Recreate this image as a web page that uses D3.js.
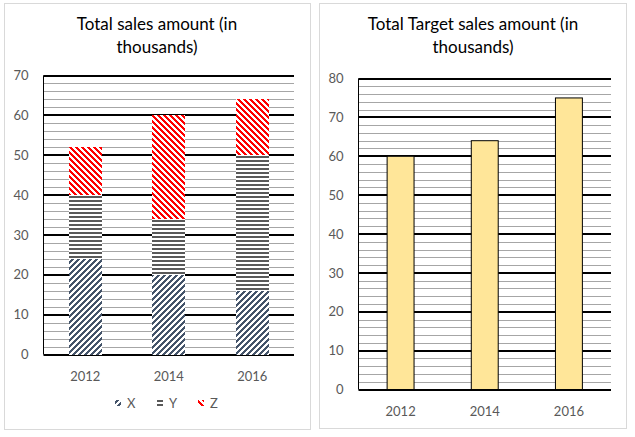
<!DOCTYPE html>
<html>
<head>
<meta charset="utf-8">
<script src="https://cdn.jsdelivr.net/npm/d3@7"></script>
<style>
  html, body { margin: 0; padding: 0; background: #fff; }
  svg { display: block; }
  text { font-family: Lato, "Open Sans", sans-serif; }
</style>
</head>
<body>
<svg id="chart" width="635" height="437"></svg>
<script>
// ---- Data ----
const years = ["2012", "2014", "2016"];
const seriesNames = ["X", "Y", "Z"];
const salesX = [24, 20, 16];
const salesY = [16, 14, 34];
const salesZ = [12, 26, 14];
const targetSales = [60, 64, 75];
const salesTicks = [0, 10, 20, 30, 40, 50, 60, 70];
const targetTicks = [0, 10, 20, 30, 40, 50, 60, 70, 80];
const salesTitle = ["Total sales amount (in", "thousands)"];
const targetTitle = ["Total Target sales amount (in", "thousands)"];

const svg = d3.select("#chart");
const defs = svg.append("defs");

// ---- Pixel patterns (crisp, Excel-like) ----
function pixelDiagonal(id, color, period, on, upward) {
  const p = defs.append("pattern")
    .attr("id", id)
    .attr("patternUnits", "userSpaceOnUse")
    .attr("x", 0).attr("y", 0)
    .attr("width", period).attr("height", period);
  p.append("rect").attr("width", period).attr("height", period).attr("fill", "#fff");
  const cells = [];
  for (let yy = 0; yy < period; yy++) {
    for (let xx = 0; xx < period; xx++) {
      const k = upward ? (xx + yy) % period : ((xx - yy) % period + period) % period;
      if (k < on) cells.push([xx, yy]);
    }
  }
  p.selectAll("rect.px").data(cells).join("rect").attr("class", "px")
    .attr("x", d => d[0]).attr("y", d => d[1]).attr("width", 1).attr("height", 1)
    .attr("fill", color).attr("shape-rendering", "crispEdges");
}
pixelDiagonal("patX", "#44546A", 6, 3, true);
pixelDiagonal("patZ", "#FF0000", 6, 3, false);
(function () {
  const p = defs.append("pattern")
    .attr("id", "patY")
    .attr("patternUnits", "userSpaceOnUse")
    .attr("width", 4).attr("height", 4);
  p.append("rect").attr("width", 4).attr("height", 4).attr("fill", "#fff");
  p.append("rect").attr("y", 0).attr("width", 4).attr("height", 2).attr("fill", "#595959")
    .attr("shape-rendering", "crispEdges");
})();
const patternFor = { X: "url(#patX)", Y: "url(#patY)", Z: "url(#patZ)" };

// ---- Helpers ----
function panel(x, y, w, h) {
  svg.append("rect").attr("x", x).attr("y", y).attr("width", w).attr("height", h)
    .attr("fill", "#fff").attr("stroke", "#D9D9D9").attr("stroke-width", 1);
}
function title(lines, cx) {
  const t = svg.append("text").attr("text-anchor", "middle")
    .attr("font-size", 17).attr("fill", "#000");
  lines.forEach((l, i) => {
    t.append("tspan").attr("x", cx).attr("y", 30 + i * 23).text(l);
  });
}
function grid(g, y, x0, x1, maxV) {
  const minor = d3.range(0, maxV + 0.001, 2).filter(v => v % 10 !== 0);
  g.selectAll(".minor").data(minor).join("line")
    .attr("x1", x0).attr("x2", x1)
    .attr("y1", d => Math.round(y(d)) + 0.5).attr("y2", d => Math.round(y(d)) + 0.5)
    .attr("stroke", "#A6A6A6").attr("stroke-width", 1);
  const major = d3.range(0, maxV + 0.001, 10);
  g.selectAll(".major").data(major).join("line")
    .attr("x1", x0).attr("x2", x1)
    .attr("y1", d => Math.round(y(d))).attr("y2", d => Math.round(y(d)))
    .attr("stroke", "#000").attr("stroke-width", 2);
}
function yAxis(g, y, ticks, x0) {
  g.append("g").attr("transform", `translate(${x0},0)`)
    .call(d3.axisLeft(y).tickValues(ticks).tickSize(0).tickPadding(15))
    .call(a => a.select(".domain").remove())
    .call(a => a.selectAll("text").attr("font-family", "Lato, 'Open Sans', sans-serif")
      .attr("font-size", 13).attr("fill", "#595959"));
  g.append("line").attr("x1", x0).attr("x2", x0)
    .attr("y1", y.range()[1]).attr("y2", y.range()[0])
    .attr("stroke", "#000").attr("stroke-width", 1);
}
function xAxis(g, x, yPos) {
  g.append("g").attr("transform", `translate(0,${yPos})`)
    .call(d3.axisBottom(x).tickSize(0).tickPadding(12))
    .call(a => a.select(".domain").remove())
    .call(a => a.selectAll("text").attr("font-family", "Lato, 'Open Sans', sans-serif")
      .attr("font-size", 13).attr("fill", "#595959"));
}

// ---- Left chart: stacked sales ----
panel(4.5, 3.5, 306, 426);
title(salesTitle, 157);
const g1 = svg.append("g");
const x1 = d3.scaleBand().domain(years).range([43.5, 294]).paddingInner(0.6).paddingOuter(0.3);
const y1 = d3.scaleLinear().domain([0, 70]).range([354.5, 75.5]);
grid(g1, y1, 43.5, 294, 70);

const rows = years.map((yr, i) => ({ year: yr, X: salesX[i], Y: salesY[i], Z: salesZ[i] }));
const stacked = d3.stack().keys(seriesNames)(rows);
g1.selectAll(".series").data(stacked).join("g")
  .attr("fill", d => patternFor[d.key])
  .selectAll("rect").data(d => d).join("rect")
  .attr("x", d => Math.round(x1(d.data.year)))
  .attr("width", Math.round(x1.bandwidth()))
  .attr("y", d => Math.round(y1(d[1])))
  .attr("height", d => Math.round(y1(d[0])) - Math.round(y1(d[1])))
  .attr("shape-rendering", "crispEdges");

yAxis(g1, y1, salesTicks, 43.5);
xAxis(g1, x1, 360);

// legend
const legendX = [115, 157, 198];
const legend = g1.append("g");
seriesNames.forEach((s, i) => {
  legend.append("rect").attr("x", legendX[i]).attr("y", 400).attr("width", 6).attr("height", 6)
    .attr("fill", patternFor[s]).attr("shape-rendering", "crispEdges");
  legend.append("text").attr("x", legendX[i] + 12).attr("y", 408)
    .attr("font-size", 13).attr("fill", "#595959").text(s);
});

// ---- Right chart: target sales ----
panel(319.5, 3.5, 307, 425);
title(targetTitle, 473);
const g2 = svg.append("g");
const x2 = d3.scaleBand().domain(years).range([358.5, 611]).paddingInner(0.68).paddingOuter(0.34);
const y2 = d3.scaleLinear().domain([0, 80]).range([389.5, 78.5]);
grid(g2, y2, 358.5, 611, 80);
g2.selectAll(".tbar").data(years.map((yr, i) => ({ year: yr, v: targetSales[i] }))).join("rect")
  .attr("x", d => x2(d.year))
  .attr("width", x2.bandwidth())
  .attr("y", d => y2(d.v))
  .attr("height", d => y2(0) - y2(d.v))
  .attr("fill", "#FFE699").attr("stroke", "#000").attr("stroke-width", 1);
yAxis(g2, y2, targetTicks, 358.5);
xAxis(g2, x2, 395);
</script>
</body>
</html>
